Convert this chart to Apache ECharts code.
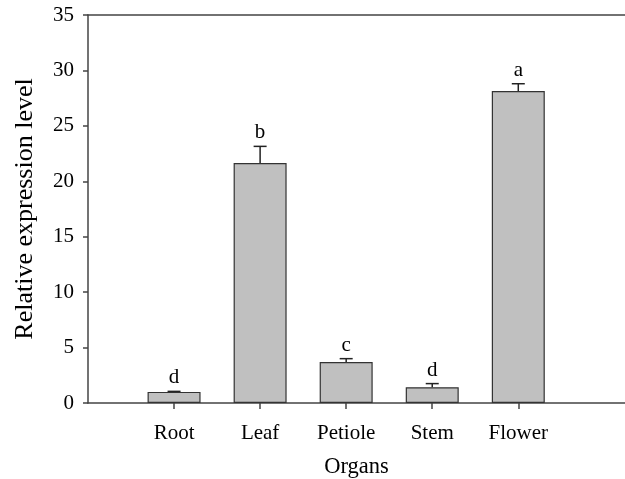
<!DOCTYPE html>
<html><head><meta charset="utf-8">
<script src="https://cdn.jsdelivr.net/npm/echarts@6/dist/echarts.min.js"></script>
<style>html,body{margin:0;padding:0;background:#fff}#c{width:625px;height:479px}</style>
</head><body><div id="c"></div>
<script>
const categories = ['Root', 'Leaf', 'Petiole', 'Stem', 'Flower'];
const values = [1.0, 21.65, 3.7, 1.42, 28.14];
const errors = [0.05, 1.5, 0.3, 0.33, 0.66];
const letters = ['d', 'b', 'c', 'd', 'a'];
const positions = [1, 2, 3, 4, 5];

const FONT = 'Liberation Serif';
const AX = '#444';
const chart = echarts.init(document.getElementById('c'), null, {renderer: 'canvas'});

const barData = positions.map((p, i) => [p, values[i]]);
const errData = positions.map((p, i) => [p, values[i], errors[i], i]);

chart.setOption({
  animation: false,
  grid: {left: 88, top: 15, right: 0, bottom: 76, outerBoundsMode: 'none', containLabel: false},
  xAxis: [{
    type: 'value', min: 0, max: 6.24, interval: 1, position: 'bottom',
    name: 'Organs', nameLocation: 'middle', nameGap: 53,
    nameTextStyle: {fontFamily: FONT, fontSize: 22.5, color: '#000'},
    axisLine: {show: true, lineStyle: {color: AX, width: 1.5}},
    axisTick: {show: true, customValues: positions, length: 6, lineStyle: {color: AX, width: 1.5}},
    axisLabel: {customValues: positions, formatter: v => categories[Math.round(v) - 1] || '',
      fontFamily: FONT, fontSize: 21, color: '#000', margin: 20},
    splitLine: {show: false}
  }, {
    type: 'value', min: 0, max: 6.24, position: 'top',
    axisLine: {show: true, onZero: false, lineStyle: {color: AX, width: 1.5}},
    axisTick: {show: false}, axisLabel: {show: false}, splitLine: {show: false}
  }],
  yAxis: {
    type: 'value', min: 0, max: 35, interval: 5,
    name: 'Relative expression level', nameLocation: 'middle', nameGap: 50, nameRotate: 90,
    nameTextStyle: {fontFamily: FONT, fontSize: 26, color: '#000'},
    axisLine: {show: true, lineStyle: {color: AX, width: 1.5}},
    axisTick: {show: true, length: 5, lineStyle: {color: AX, width: 1.5}},
    axisLabel: {fontFamily: FONT, fontSize: 21, color: '#000', margin: 14},
    splitLine: {show: false}
  },
  series: [{
    type: 'bar', xAxisIndex: 0, data: barData, barWidth: 53,
    itemStyle: {color: '#c0c0c0', borderColor: '#333', borderWidth: 1.2}
  }, {
    type: 'custom', xAxisIndex: 0, data: errData, z: 10,
    renderItem: function (params, api) {
      const x = api.value(0), v = api.value(1), e = api.value(2), idx = api.value(3);
      const top = api.coord([x, v]);
      const hi = api.coord([x, v + e]);
      const cw = 6.5;
      return {type: 'group', children: [
        {type: 'line', shape: {x1: hi[0], y1: top[1], x2: hi[0], y2: hi[1]}, style: {stroke: '#222', lineWidth: 1.5}},
        {type: 'line', shape: {x1: hi[0] - cw, y1: hi[1], x2: hi[0] + cw, y2: hi[1]}, style: {stroke: '#222', lineWidth: 1.5}},
        {type: 'text', x: hi[0], y: hi[1] - 3, style: {text: letters[idx], fontFamily: FONT, fontSize: 21, fill: '#000', align: 'center', verticalAlign: 'bottom'}}
      ]};
    }
  }]
});
</script></body></html>
